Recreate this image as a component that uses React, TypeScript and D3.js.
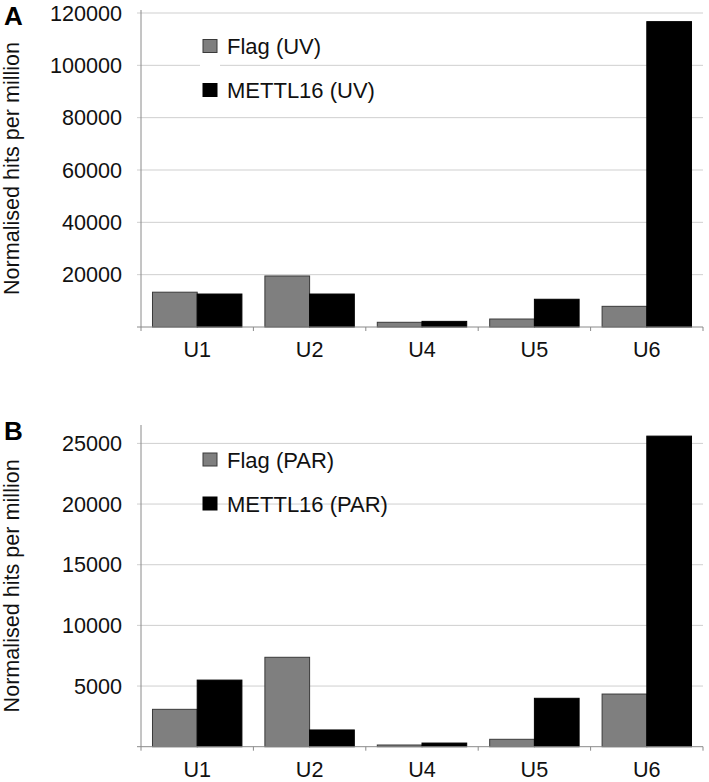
import React from "react";
import * as d3 from "d3";

const categories = ["U1", "U2", "U4", "U5", "U6"];
const seriesNames = ["Flag", "METTL16"];

const uvFlag = [13300, 19500, 1800, 3050, 7900];
const uvMettl16 = [12600, 12600, 2150, 10600, 116700];
const uvTicks = [20000, 40000, 60000, 80000, 100000, 120000];

const parFlag = [3080, 7370, 140, 610, 4340];
const parMettl16 = [5490, 1380, 300, 3990, 25600];
const parTicks = [5000, 10000, 15000, 20000, 25000];

const legendUV = ["Flag (UV)", "METTL16 (UV)"];
const legendPAR = ["Flag (PAR)", "METTL16 (PAR)"];

const FONT = "'Liberation Sans', Arial, Helvetica, sans-serif";
const COLORS = ["#7f7f7f", "#000000"];
const STROKES = ["#3a3a3a", "#000000"];

type PanelProps = {
  letter: string;
  flag: number[];
  mettl: number[];
  ticks: number[];
  maxVal: number;
  legend: string[];
  top: number;
  bottom: number;
  axisTop: number;
  legendY: number;
  legendGap: number;
  legendMask: boolean;
};

function Panel(p: PanelProps) {
  const left = 141;
  const right = 703;
  const y = d3.scaleLinear().domain([0, p.maxVal]).range([p.bottom, p.top]);
  const x0 = d3.scaleBand<string>().domain(categories).range([left, right]).padding(0);
  const x1 = d3
    .scaleBand<string>()
    .domain(seriesNames)
    .range([0, x0.bandwidth()])
    .paddingInner(0)
    .paddingOuter(0.257);
  const data = [p.flag, p.mettl];
  const boundaries = categories.map((c) => x0(c) as number).concat([right]);
  const midY = (p.axisTop + p.bottom) / 2;
  return (
    <g>
      {p.ticks.map((t) => (
        <line key={"g" + t} x1={left - 4} x2={right} y1={y(t)} y2={y(t)} stroke="#cfcfcf" strokeWidth={1} />
      ))}
      {p.legendMask && (
        <rect x={200} y={p.legendY - 10} width={20} height={p.legendGap + 22} fill="#fff" />
      )}
      <line x1={left} x2={left} y1={p.axisTop} y2={p.bottom} stroke="#8a8a8a" strokeWidth={1} />
      {p.ticks.map((t) => (
        <text
          key={"t" + t}
          x={122}
          y={y(t)}
          dy="0.36em"
          textAnchor="end"
          fontSize={21.6}
          fontFamily={FONT}
          fill="#111"
        >
          {t}
        </text>
      ))}
      {categories.map((c, i) => (
        <g key={c} transform={`translate(${x0(c)},0)`}>
          {seriesNames.map((s, k) => (
            <rect
              key={s}
              x={x1(s)}
              y={y(data[k][i])}
              width={x1.bandwidth()}
              height={p.bottom - y(data[k][i])}
              fill={COLORS[k]}
              stroke={STROKES[k]}
              strokeWidth={1}
            />
          ))}
        </g>
      ))}
      <line x1={left - 4} x2={right} y1={p.bottom} y2={p.bottom} stroke="#8a8a8a" strokeWidth={1} />
      {boundaries.map((b, i) => (
        <line key={"xt" + i} x1={b} x2={b} y1={p.bottom} y2={p.bottom + 4} stroke="#8a8a8a" strokeWidth={1} />
      ))}
      {categories.map((c) => (
        <text
          key={"xl" + c}
          x={(x0(c) as number) + x0.bandwidth() / 2}
          y={p.bottom + 30}
          textAnchor="middle"
          fontSize={21.6}
          fontFamily={FONT}
          fill="#111"
        >
          {c}
        </text>
      ))}
      <text
        transform={`translate(18.5,${midY}) rotate(-90)`}
        textAnchor="middle"
        fontSize={21.6}
        fontFamily={FONT}
        fill="#111"
      >
        Normalised hits per million
      </text>
      <text x={4} y={p.axisTop + 15} fontSize={26} fontWeight="bold" fontFamily={FONT} fill="#000">
        {p.letter}
      </text>
      {p.legend.map((l, k) => (
        <g key={l} transform={`translate(203,${p.legendY + k * p.legendGap})`}>
          <rect x={0} y={0} width={14} height={13} fill={COLORS[k]} stroke={STROKES[k]} strokeWidth={1} />
          <text x={24} y={14.5} fontSize={22} fontFamily={FONT} fill="#111">
            {l}
          </text>
        </g>
      ))}
    </g>
  );
}

export default function App() {
  return (
    <svg
      width={709}
      height={782}
      style={{ position: "absolute", left: 0, top: 0, background: "#fff" }}
    >
      <rect width={709} height={782} fill="#fff" />
      <Panel
        letter="A"
        flag={uvFlag}
        mettl={uvMettl16}
        ticks={uvTicks}
        maxVal={120000}
        legend={legendUV}
        top={13}
        bottom={327}
        axisTop={10}
        legendY={39.5}
        legendGap={44}
        legendMask={true}
      />
      <Panel
        letter="B"
        flag={parFlag}
        mettl={parMettl16}
        ticks={parTicks}
        maxVal={25000}
        legend={legendPAR}
        top={443.4}
        bottom={746.7}
        axisTop={425}
        legendY={453}
        legendGap={44}
        legendMask={false}
      />
    </svg>
  );
}
